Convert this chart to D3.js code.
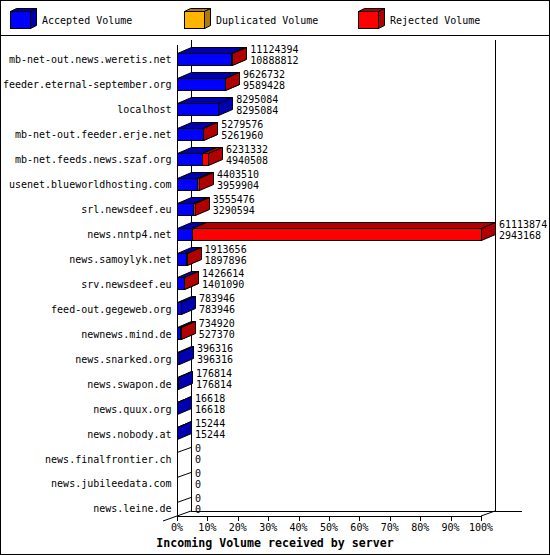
<!DOCTYPE html>
<html>
<head>
<meta charset="utf-8">
<script src="https://cdn.jsdelivr.net/npm/d3@7/dist/d3.min.js"></script>
<style>
  html, body { margin: 0; padding: 0; background: #fff; }
  svg { display: block; }
  text { font-family: "DejaVu Sans Mono", "Liberation Mono", monospace; font-size: 10px; fill: #000; }
</style>
</head>
<body>
<svg id="chart" width="550" height="555"></svg>
<script>
// ---- data ----
const hosts = [
  "mb-net-out.news.weretis.net",
  "feeder.eternal-september.org",
  "localhost",
  "mb-net-out.feeder.erje.net",
  "mb-net.feeds.news.szaf.org",
  "usenet.blueworldhosting.com",
  "srl.newsdeef.eu",
  "news.nntp4.net",
  "news.samoylyk.net",
  "srv.newsdeef.eu",
  "feed-out.gegeweb.org",
  "newnews.mind.de",
  "news.snarked.org",
  "news.swapon.de",
  "news.quux.org",
  "news.nobody.at",
  "news.finalfrontier.ch",
  "news.jubileedata.com",
  "news.leine.de"
];
const totalVolume = [11124394, 9626732, 8295084, 5279576, 6231332, 4403510, 3555476, 61113874,
  1913656, 1426614, 783946, 734920, 396316, 176814, 16618, 15244, 0, 0, 0];
const acceptedVolume = [10888812, 9589428, 8295084, 5261960, 4940508, 3959904, 3290594, 2943168,
  1897896, 1401090, 783946, 527370, 396316, 176814, 16618, 15244, 0, 0, 0];
const duplicatedVolume = [0, 0, 0, 0, 0, 0, 0, 0, 0, 0, 0, 0, 0, 0, 0, 0, 0, 0, 0];
const seriesNames = ["Accepted Volume", "Duplicated Volume", "Rejected Volume"];
const tickValues = [0, 10, 20, 30, 40, 50, 60, 70, 80, 90, 100];
const tickLabels = ["0%", "10%", "20%", "30%", "40%", "50%", "60%", "70%", "80%", "90%", "100%"];
const axisTitle = "Incoming Volume received by server";

// ---- styles ----
const colors = [
  { front: "#0000FF", dark: "#0000B0" },
  { front: "#FFB400", dark: "#B07C00" },
  { front: "#FF0000", dark: "#B00000" }
];

const svg = d3.select("#chart");
svg.append("rect").attr("x", 0.5).attr("y", 0.5).attr("width", 549).attr("height", 554)
  .attr("fill", "#fff").attr("stroke", "#000").attr("shape-rendering", "crispEdges");
svg.append("line").attr("x1", 0).attr("x2", 550).attr("y1", 35.5).attr("y2", 35.5)
  .attr("stroke", "#000").attr("shape-rendering", "crispEdges");

// ---- legend ----
const legendX = [10, 184, 358];
seriesNames.forEach((name, i) => {
  const g = svg.append("g");
  const x0 = legendX[i] + 0.5, x1 = x0 + 20, t = 11.5, b = 28.5, dx = 6, dy = -3;
  g.append("polygon").attr("points", [[x0, t], [x1, t], [x1 + dx, t + dy], [x0 + dx, t + dy]].join(" "))
    .attr("fill", colors[i].dark).attr("stroke", "#000");
  g.append("polygon").attr("points", [[x1, t], [x1 + dx, t + dy], [x1 + dx, b + dy], [x1, b]].join(" "))
    .attr("fill", colors[i].dark).attr("stroke", "#000");
  g.append("rect").attr("x", x0).attr("y", t).attr("width", 20).attr("height", b - t)
    .attr("fill", colors[i].front).attr("stroke", "#000");
  g.append("text").attr("x", legendX[i] + 32).attr("y", 20).attr("dy", "0.35em").text(name);
});

// ---- scales ----
const x = d3.scaleLinear().domain([0, 100]).range([177, 481]);
const y = d3.scaleBand().domain(hosts).range([47.5, 521.4]).padding(0);
const maxTotal = d3.max(totalVolume);
const pct = v => v / maxTotal * 100;
const WD = { dx: 14, dy: -5 };   // wall depth
const BD = { dx: 14, dy: -6 };   // bar depth

const frontBottom = 516, backBottom = 511, wallTop = 40;

// ---- walls / frame lines ----
const lines = svg.append("g").attr("stroke", "#000").attr("fill", "none");
lines.append("line").attr("x1", x(0) + WD.dx + 0.5).attr("x2", x(0) + WD.dx + 0.5)
  .attr("y1", wallTop).attr("y2", backBottom).attr("shape-rendering", "crispEdges");
lines.append("line").attr("x1", x(100) + WD.dx + 0.5).attr("x2", x(100) + WD.dx + 0.5)
  .attr("y1", wallTop).attr("y2", backBottom).attr("shape-rendering", "crispEdges");
lines.append("line").attr("x1", x(0) + WD.dx).attr("x2", 522)
  .attr("y1", backBottom + 0.5).attr("y2", backBottom + 0.5).attr("shape-rendering", "crispEdges");
lines.append("line").attr("x1", x(0) - WD.dx).attr("y1", frontBottom - WD.dy)
  .attr("x2", x(0) + WD.dx).attr("y2", backBottom);
lines.append("line").attr("x1", x(100)).attr("y1", frontBottom)
  .attr("x2", x(100) + WD.dx).attr("y2", backBottom);
lines.append("line").attr("x1", x(0) + 0.5).attr("x2", x(0) + 0.5)
  .attr("y1", wallTop - WD.dy).attr("y2", frontBottom).attr("shape-rendering", "crispEdges");
lines.append("line").attr("x1", x(0)).attr("x2", x(100) + 0.5)
  .attr("y1", frontBottom + 0.5).attr("y2", frontBottom + 0.5).attr("shape-rendering", "crispEdges");

// ticks
const ticks = svg.append("g");
tickValues.forEach((t, i) => {
  ticks.append("line").attr("x1", Math.round(x(t)) + 0.5).attr("x2", Math.round(x(t)) + 0.5)
    .attr("y1", frontBottom).attr("y2", frontBottom + 4.5).attr("stroke", "#000")
    .attr("shape-rendering", "crispEdges");
  ticks.append("text").attr("x", x(t)).attr("y", 527).attr("dy", "0.35em")
    .attr("text-anchor", "middle").text(tickLabels[i]);
});
svg.append("text").attr("x", 275).attr("y", 543).attr("dy", "0.35em")
  .attr("text-anchor", "middle").style("font-weight", "bold").style("font-size", "11.6px")
  .text(axisTitle);

// ---- bars ----
function box(g, x0, x1, top, bot, c) {
  const dx = BD.dx, dy = BD.dy;
  g.append("polygon").attr("points", [[x0, top], [x1, top], [x1 + dx, top + dy], [x0 + dx, top + dy]].join(" "))
    .attr("fill", c.dark).attr("stroke", "#000");
  g.append("polygon").attr("points", [[x1, top], [x1 + dx, top + dy], [x1 + dx, bot + dy], [x1, bot]].join(" "))
    .attr("fill", c.dark).attr("stroke", "#000");
  g.append("rect").attr("x", x0).attr("y", top).attr("width", Math.max(0, x1 - x0)).attr("height", bot - top)
    .attr("fill", c.front).attr("stroke", "#000");
}

const bars = svg.append("g");
hosts.forEach((h, i) => {
  const cy = y(h) + y.bandwidth() / 2;
  const top = Math.round(cy - 7) + 0.5, bot = top + 12;
  const acc = acceptedVolume[i], dup = duplicatedVolume[i], tot = totalVolume[i];
  const rej = tot - acc - dup;
  const segs = [[0, acc, 0], [acc, acc + dup, 1], [acc + dup, acc + dup + rej, 2]];
  const g = bars.append("g");
  if (tot === 0) {
    g.append("line").attr("x1", x(0)).attr("y1", top).attr("x2", x(0) + WD.dx).attr("y2", top + WD.dy)
      .attr("stroke", "#000");
  } else {
    segs.forEach(([a, b, ci]) => {
      if (b - a <= 0) return;
      box(g, Math.round(x(pct(a))) + 0.5, Math.round(x(pct(b))) + 0.5, top, bot, colors[ci]);
    });
  }
  // category label
  svg.append("text").attr("x", 171.5).attr("y", cy).attr("dy", "0.35em")
    .attr("text-anchor", "end").text(h);
  // values
  const tx = x(pct(tot)) + 18;
  svg.append("text").attr("x", tx).attr("y", top - 4).attr("dy", "0.35em").text(String(tot));
  svg.append("text").attr("x", tx).attr("y", top + 7).attr("dy", "0.35em").text(String(acc));
});
</script>
</body>
</html>
